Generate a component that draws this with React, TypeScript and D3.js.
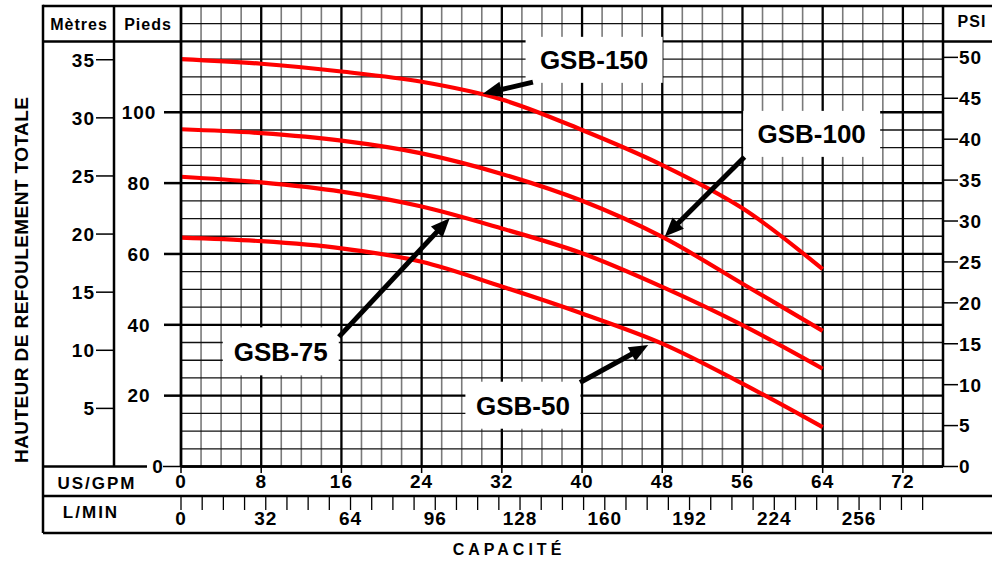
import * as d3 from 'd3';

// US gallons per minute sampled along each pump curve
const gpm = [0, 8, 16, 24, 32, 40, 48, 56, 64];

// total head in feet
const gsb150 = [115.0, 113.7, 111.5, 108.6, 103.6, 95.0, 85.1, 72.9, 55.7];
const gsb100 = [95.2, 94.1, 92.0, 88.4, 82.6, 75.0, 64.8, 51.6, 38.3];
const gsb75 = [81.8, 80.2, 77.6, 73.4, 67.2, 60.2, 50.7, 39.9, 27.6];
const gsb50 = [64.6, 63.6, 61.6, 57.8, 50.8, 43.2, 34.7, 23.4, 11.1];

const seriesNames = ['GSB-150', 'GSB-100', 'GSB-75', 'GSB-50'];
const seriesValues = [gsb150, gsb100, gsb75, gsb50];

// tick labels
const gpmTicks = [0, 8, 16, 24, 32, 40, 48, 56, 64, 72];
const lpmLabels = [0, 32, 64, 96, 128, 160, 192, 224, 256];
const feetTicks = [20, 40, 60, 80, 100];
const metreTicks = [5, 10, 15, 20, 25, 30, 35];
const psiTicks = [0, 5, 10, 15, 20, 25, 30, 35, 40, 45, 50];

// callouts: label centre and arrow tail/tip, in gpm / feet
const calloutLabel = [[41.2, 114.8], [62.9, 93.9], [9.95, 32.5], [34.1, 17.3]];
const calloutTail = [[35.1, 108.5], [56.2, 87.4], [15.75, 36.6], [39.8, 23.7]];
const calloutTip = [[30.1, 105.2], [48.25, 64.9], [26.8, 70.1], [46.6, 34.3]];
const calloutBox = [[137, 46], [137, 46], [116, 48], [115, 47]];

const FT_PER_M = 3.28084;
const FT_PER_PSI = 2.31;
const LPM_PER_GPM = 3.78541;

export default function App() {
  const width = 992;
  const height = 561;
  const font = '"Liberation Sans", Arial, Helvetica, sans-serif';

  const x = d3.scaleLinear().domain([0, 76]).range([181, 943]);
  const y = d3.scaleLinear().domain([0, 130]).range([466.5, 6]);

  const gridTop = y(130);
  const gridBottom = y(0);
  const gridLeft = x(0);
  const gridRight = x(76);

  const line = d3.line<number>()
    .x((d, i) => x(gpm[i]))
    .y(d => y(d))
    .curve(d3.curveCatmullRom.alpha(0.5));

  const vMinor = d3.range(0, 77, 2).filter(v => v % 8 !== 0);
  const vMajor = d3.range(0, 77, 8);
  const hMinor = d3.range(0, 131, 5).filter(v => v % 20 !== 0);
  const hMajor = d3.range(0, 131, 20);
  const lpmTicks = d3.range(0, 281, 8);

  const tickFont = { fontFamily: font, fontWeight: 700, fontSize: 19, letterSpacing: 1 };

  return (
    <svg width={width} height={height} style={{ position: 'absolute', left: 0, top: 0, background: '#fff' }}>
      <rect x={0} y={0} width={width} height={height} fill='#fff' />

      {/* grid */}
      <g>
        {vMinor.map(v => <line key={'vm' + v} x1={x(v)} x2={x(v)} y1={gridTop} y2={gridBottom} stroke='#7a7a7a' strokeWidth={1.6} />)}
        {hMinor.map(v => <line key={'hm' + v} x1={gridLeft} x2={gridRight} y1={y(v)} y2={y(v)} stroke='#111' strokeWidth={1.3} />)}
        {vMajor.map(v => <line key={'vM' + v} x1={x(v)} x2={x(v)} y1={gridTop} y2={gridBottom} stroke='#000' strokeWidth={2.3} />)}
        {hMajor.map(v => <line key={'hM' + v} x1={gridLeft} x2={gridRight} y1={y(v)} y2={y(v)} stroke='#000' strokeWidth={2.3} />)}
        <line x1={gridRight} x2={gridRight} y1={gridTop} y2={gridBottom} stroke='#000' strokeWidth={2.5} />
      </g>

      {/* pump curves */}
      {seriesValues.map((vals, i) => (
        <path key={seriesNames[i]} d={line(vals) as string} fill='none' stroke='#ff0000' strokeWidth={4.2} strokeLinecap='butt' />
      ))}

      {/* callouts */}
      {seriesNames.map((name, i) => {
        const [cx, cy] = [x(calloutLabel[i][0]), y(calloutLabel[i][1])];
        const [bw, bh] = calloutBox[i];
        const tx = x(calloutTail[i][0]);
        const ty = y(calloutTail[i][1]);
        const px = x(calloutTip[i][0]);
        const py = y(calloutTip[i][1]);
        const ang = Math.atan2(py - ty, px - tx);
        const headLen = 19;
        const headW = 8;
        const bx = px - headLen * Math.cos(ang);
        const by = py - headLen * Math.sin(ang);
        const nx = -Math.sin(ang);
        const ny = Math.cos(ang);
        const head = `${px},${py} ${bx + nx * headW},${by + ny * headW} ${bx - nx * headW},${by - ny * headW}`;
        return (
          <g key={'c' + name}>
            <rect x={cx - bw / 2} y={cy - bh / 2} width={bw} height={bh} fill='#fff' />
            <text x={cx} y={cy} dy='0.36em' textAnchor='middle' fontFamily={font} fontWeight={700} fontSize={26}>{name}</text>
            <line x1={tx} y1={ty} x2={bx + 3 * Math.cos(ang)} y2={by + 3 * Math.sin(ang)} stroke='#000' strokeWidth={5} />
            <polygon points={head} fill='#000' />
          </g>
        );
      })}

      {/* frame */}
      <g stroke='#000' strokeWidth={2.5}>
        <line x1={43} x2={width} y1={gridTop} y2={gridTop} />
        <line x1={43} x2={43} y1={gridTop - 1.25} y2={533} />
        <line x1={114} x2={114} y1={gridTop} y2={gridBottom} />
        <line x1={gridLeft} x2={gridLeft} y1={gridTop} y2={gridBottom} />
        <line x1={43} x2={gridLeft} y1={y(120)} y2={y(120)} />
        <line x1={gridRight} x2={width} y1={y(120)} y2={y(120)} />
        <line x1={43} x2={147} y1={gridBottom} y2={gridBottom} />
        <line x1={gridLeft} x2={gridRight} y1={gridBottom} y2={gridBottom} />
        <line x1={43} x2={width} y1={496} y2={496} />
        <line x1={43} x2={width} y1={533} y2={533} />
      </g>

      {/* headers */}
      <text x={79} y={30} textAnchor='middle' fontFamily={font} fontWeight={700} fontSize={16} letterSpacing={1}>Mètres</text>
      <text x={148} y={30} textAnchor='middle' fontFamily={font} fontWeight={700} fontSize={16} letterSpacing={1}>Pieds</text>
      <text x={972} y={27} textAnchor='middle' fontFamily={font} fontWeight={700} fontSize={16} letterSpacing={1}>PSI</text>

      {/* metres axis */}
      {metreTicks.map(m => (
        <g key={'m' + m}>
          <line x1={96} x2={114} y1={y(m * FT_PER_M)} y2={y(m * FT_PER_M)} stroke='#000' strokeWidth={1.5} />
          <text x={95} y={y(m * FT_PER_M)} dy='0.36em' textAnchor='end' {...tickFont}>{m}</text>
        </g>
      ))}

      {/* feet axis */}
      {feetTicks.map(f => (
        <g key={'f' + f}>
          <line x1={164} x2={gridLeft} y1={y(f)} y2={y(f)} stroke='#000' strokeWidth={2.5} />
          <text x={139} y={y(f)} dy='0.36em' textAnchor='middle' {...tickFont}>{f}</text>
        </g>
      ))}
      <line x1={163} x2={gridLeft} y1={gridBottom} y2={gridBottom} stroke='#000' strokeWidth={1.5} />
      <text x={158} y={gridBottom} dy='0.36em' textAnchor='middle' {...tickFont}>0</text>

      {/* psi axis */}
      {psiTicks.map(p => (
        <g key={'p' + p}>
          <line x1={gridRight} x2={958} y1={y(p * FT_PER_PSI)} y2={y(p * FT_PER_PSI)} stroke='#000' strokeWidth={1.5} />
          <text x={959} y={y(p * FT_PER_PSI)} dy='0.36em' textAnchor='start' {...tickFont}>{p}</text>
        </g>
      ))}

      {/* US/GPM row */}
      <text x={97} y={489} textAnchor='middle' fontFamily={font} fontWeight={700} fontSize={17} letterSpacing={2}>US/GPM</text>
      {gpmTicks.map(g => (
        <g key={'g' + g}>
          <line x1={x(g)} x2={x(g)} y1={gridBottom} y2={473} stroke='#000' strokeWidth={1.5} />
          <text x={x(g)} y={488} textAnchor='middle' {...tickFont}>{g}</text>
        </g>
      ))}

      {/* L/MIN row */}
      <text x={91} y={518} textAnchor='middle' fontFamily={font} fontWeight={700} fontSize={17} letterSpacing={2}>L/MIN</text>
      {lpmTicks.map(l => (
        <line key={'l' + l} x1={x(l / LPM_PER_GPM)} x2={x(l / LPM_PER_GPM)} y1={496} y2={510} stroke='#000' strokeWidth={1.3} />
      ))}
      {lpmLabels.map(l => (
        <text key={'ll' + l} x={x(l / LPM_PER_GPM)} y={525} textAnchor='middle' {...tickFont}>{l}</text>
      ))}

      {/* axis titles */}
      <text
        transform={`translate(21,${280}) rotate(-90)`}
        dy='0.36em'
        textAnchor='middle'
        fontFamily={font}
        fontWeight={700}
        fontSize={19}
        textLength={366}
        lengthAdjust='spacing'
      >
        HAUTEUR DE REFOULEMENT TOTALE
      </text>
      <text x={509} y={555} textAnchor='middle' fontFamily={font} fontWeight={700} fontSize={16} letterSpacing={4}>CAPACITÉ</text>
    </svg>
  );
}
